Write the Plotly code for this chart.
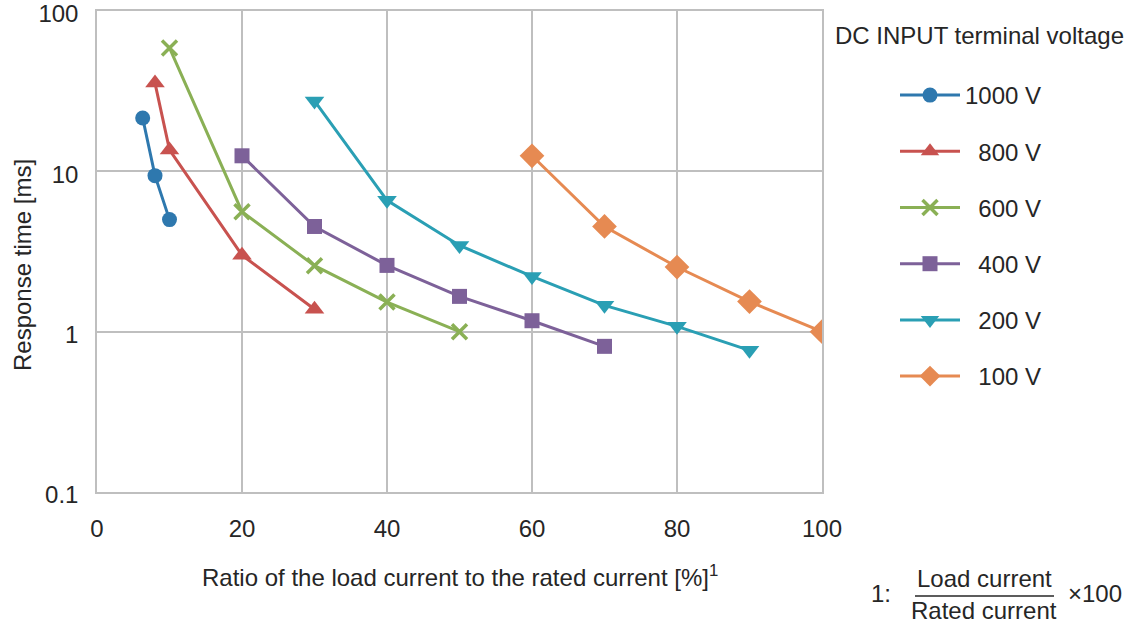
import plotly.graph_objects as go

# ---- data ----
series_names = ["1000 V", "\u2007800 V", "\u2007600 V", "\u2007400 V", "\u2007200 V", "\u2007100 V"]
x_1000 = [6.3, 8, 10]
y_1000 = [21.5, 9.4, 5.0]
x_800 = [8, 10, 20, 30]
y_800 = [35.5, 13.6, 3.0, 1.38]
x_600 = [10, 20, 30, 40, 50]
y_600 = [58.8, 5.6, 2.58, 1.53, 1.0]
x_400 = [20, 30, 40, 50, 60, 70]
y_400 = [12.5, 4.53, 2.59, 1.66, 1.17, 0.81]
x_200 = [30, 40, 50, 60, 70, 80, 90]
y_200 = [27.5, 6.6, 3.45, 2.21, 1.46, 1.08, 0.765]
x_100 = [60, 70, 80, 90, 100]
y_100 = [12.5, 4.53, 2.53, 1.54, 1.0]

y_tickvals = [0.1, 1, 10, 100]
y_ticktext = ["0.1", "1", "10", "100"]
x_tickvals = [0, 20, 40, 60, 80, 100]

colors = ["#2E78AE", "#C8524F", "#8AB055", "#7D6199", "#2A9FB4", "#E68A52"]
symbols = ["circle", "triangle-up", "x-thin", "square", "triangle-down", "diamond"]
sizes = [15, 17, 15, 15, 17, 19]

xs = [x_1000, x_800, x_600, x_400, x_200, x_100]
ys = [y_1000, y_800, y_600, y_400, y_200, y_100]

FONT = "Liberation Sans, Arial, sans-serif"
TXT = "#262626"
GRID = "#BFBFBF"
FS = 24

L, R, T, B = 97, 822, 11, 492


def px_x(p):
    return (p - L) / (R - L)


def px_y(p):
    return (B - p) / (B - T)


fig = go.Figure()
for i in range(6):
    mk = dict(symbol=symbols[i], size=sizes[i], color=colors[i])
    if symbols[i] == "x-thin":
        mk["line"] = dict(width=3.5, color=colors[i])
    else:
        mk["line"] = dict(width=0)
    fig.add_trace(go.Scatter(
        x=xs[i], y=ys[i], mode="lines+markers", name=series_names[i],
        line=dict(color=colors[i], width=3), marker=mk,
        legendgroup=f"g{i}",
    ))

fig.update_layout(
    width=1136, height=625,
    margin=dict(l=L, r=1136 - R, t=T, b=625 - B, autoexpand=False),
    paper_bgcolor="white", plot_bgcolor="white",
    font=dict(family=FONT, size=FS, color=TXT),
    showlegend=True,
    legend=dict(
        x=px_x(895), y=px_y(73), xanchor="left", yanchor="top",
        traceorder="grouped", tracegroupgap=22, itemwidth=60,
        font=dict(size=FS, color=TXT, family=FONT),
        bgcolor="rgba(0,0,0,0)",
    ),
)
fig.update_xaxes(
    range=[0, 100], tickvals=x_tickvals, showgrid=True, gridcolor=GRID, gridwidth=1.5,
    showline=True, linecolor=GRID, linewidth=1.5, mirror=True, zeroline=False,
    ticks="", ticklabelstandoff=14, tickfont=dict(size=FS, color=TXT), automargin=False,
    ticklabeloverflow="allow",
)
fig.update_yaxes(
    type="log", range=[-1, 2], tickvals=y_tickvals, ticktext=y_ticktext,
    showgrid=True, gridcolor=GRID, gridwidth=1.5,
    showline=True, linecolor=GRID, linewidth=1.5, mirror=True, zeroline=False,
    ticks="", ticklabelstandoff=12, ticklabelshift=3, tickfont=dict(size=FS, color=TXT),
    automargin=False, ticklabeloverflow="allow",
)

# axis titles
fig.add_annotation(x=px_x(460), y=px_y(576), xref="paper", yref="paper",
                   text="Ratio of the load current to the rated current [%]<sup>1</sup>",
                   showarrow=False, font=dict(size=FS, color=TXT), xanchor="center", yanchor="middle")
fig.add_annotation(x=px_x(22), y=px_y(265), xref="paper", yref="paper",
                   text="Response time [ms]", textangle=-90,
                   showarrow=False, font=dict(size=FS, color=TXT), xanchor="center", yanchor="middle")

# legend title
fig.add_annotation(x=px_x(980), y=px_y(36), xref="paper", yref="paper",
                   text="DC INPUT terminal voltage", showarrow=False,
                   font=dict(size=FS, color=TXT), xanchor="center", yanchor="middle")

# footnote
fig.add_annotation(x=px_x(881), y=px_y(593), xref="paper", yref="paper", text="1:",
                   showarrow=False, font=dict(size=FS, color=TXT), xanchor="center", yanchor="middle")
fig.add_annotation(x=px_x(984), y=px_y(578), xref="paper", yref="paper", text="Load current",
                   showarrow=False, font=dict(size=FS, color=TXT), xanchor="center", yanchor="middle")
fig.add_annotation(x=px_x(984), y=px_y(610), xref="paper", yref="paper", text="Rated current",
                   showarrow=False, font=dict(size=FS, color=TXT), xanchor="center", yanchor="middle")
fig.add_annotation(x=px_x(1095), y=px_y(593), xref="paper", yref="paper", text="×100",
                   showarrow=False, font=dict(size=FS, color=TXT), xanchor="center", yanchor="middle")
fig.add_shape(type="line", xref="paper", yref="paper", x0=px_x(915), x1=px_x(1054),
              y0=px_y(596), y1=px_y(596), line=dict(color=TXT, width=1.5))

fig.write_html("out.html", config={"displayModeBar": False},
               post_script="document.body.style.margin='0';document.body.style.overflow='hidden';")
